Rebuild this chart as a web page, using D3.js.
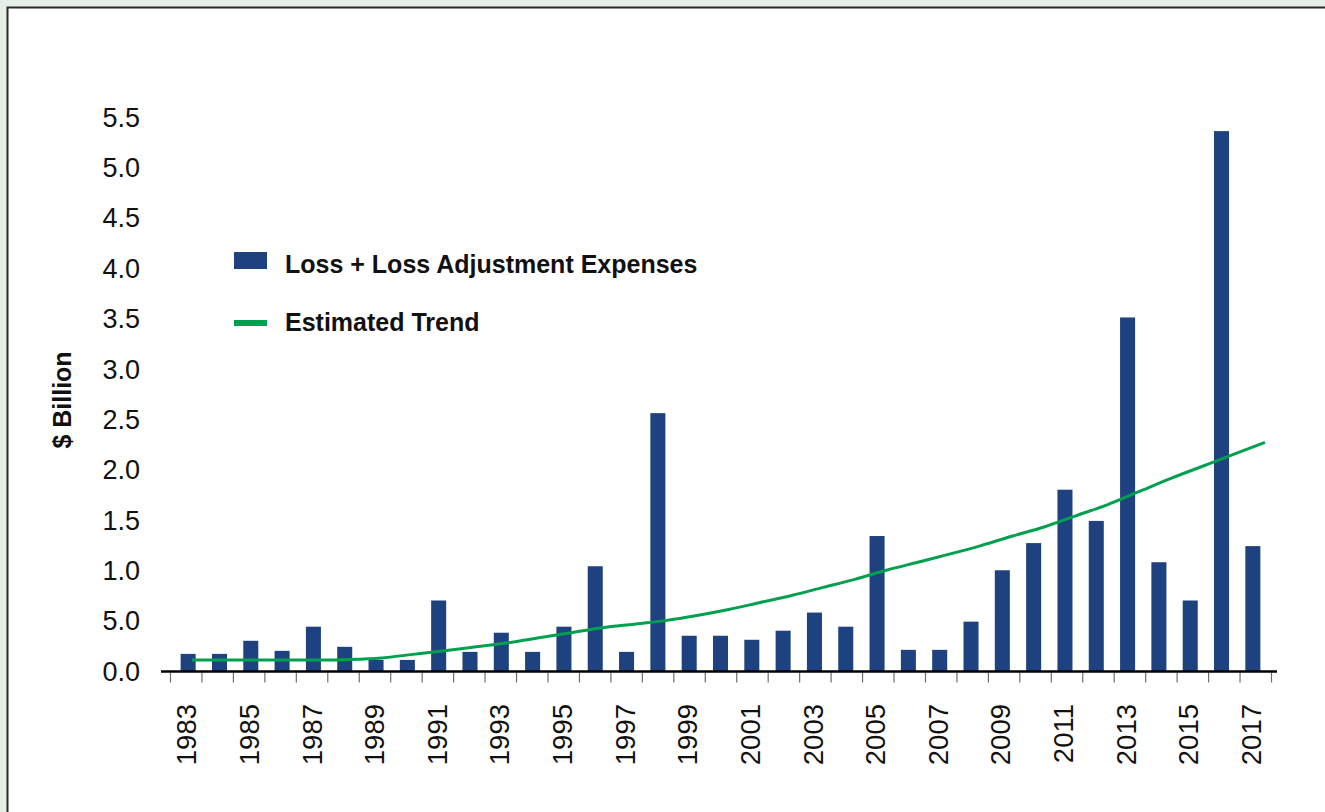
<!DOCTYPE html>
<html>
<head>
<meta charset="utf-8">
<script src="https://cdn.jsdelivr.net/npm/d3@7"></script>
<style>
  html, body { margin: 0; padding: 0; background: #e5efe8; }
  svg { display: block; }
  text { font-family: "Liberation Sans", Arial, sans-serif; fill: #111; }
</style>
</head>
<body>
<div id="chart"></div>
<script>
var svgWidth = 1325;
var svgHeight = 812;

// data
var years = d3.range(1983, 2018).map(String);
var lossValues = [0.17, 0.17, 0.30, 0.20, 0.44, 0.24, 0.11, 0.11, 0.70, 0.19,
  0.38, 0.19, 0.44, 1.04, 0.19, 2.56, 0.35, 0.35, 0.31, 0.40,
  0.58, 0.44, 1.34, 0.21, 0.21, 0.49, 1.00, 1.27, 1.80, 1.49,
  3.51, 1.08, 0.70, 5.36, 1.24];
var trendValues = [0.11, 0.11, 0.11, 0.11, 0.11, 0.115, 0.13, 0.165, 0.20, 0.24,
  0.28, 0.33, 0.38, 0.43, 0.465, 0.50, 0.55, 0.61, 0.68, 0.75,
  0.83, 0.91, 1.00, 1.08, 1.16, 1.245, 1.34, 1.43, 1.54, 1.65,
  1.78, 1.91, 2.03, 2.15, 2.27];
var yTickValues = [0, 0.5, 1, 1.5, 2, 2.5, 3, 3.5, 4, 4.5, 5, 5.5];
var yTickLabels = ["0.0", "5.0", "1.0", "1.5", "2.0", "2.5", "3.0", "3.5", "4.0", "4.5", "5.0", "5.5"];
var xLabelYears = years.filter(function(d, i) { return i % 2 === 0; });
var legendLabels = ["Loss + Loss Adjustment Expenses", "Estimated Trend"];

var barColor = "#1e4280";
var trendColor = "#00a04f";

var svg = d3.select("#chart")
  .append("svg")
  .attr("width", svgWidth)
  .attr("height", svgHeight);

// white panel with dark frame
svg.append("rect")
  .attr("x", 7.5)
  .attr("y", 7.5)
  .attr("width", svgWidth + 20)
  .attr("height", svgHeight + 20)
  .attr("fill", "#fff")
  .attr("stroke", "#2b2b2b")
  .attr("stroke-width", 2);

// scales
var yScale = d3.scaleLinear()
  .domain([0, 5.5])
  .range([671, 117]);

var xBand = d3.scaleBand()
  .domain(years)
  .range([172.5, 1268.5])
  .paddingInner(0.52)
  .paddingOuter(0.26);

var tickScale = d3.scaleLinear()
  .domain([0, years.length])
  .range([170, 1271]);

// the trend line runs a little wider than the bar centres
var trendX = d3.scaleLinear()
  .domain([0, years.length - 1])
  .range([192, 1265]);

// bars
svg.append("g")
  .selectAll("rect")
  .data(lossValues)
  .enter()
  .append("rect")
  .attr("x", function(d, i) { return xBand(years[i]); })
  .attr("y", function(d) { return yScale(d); })
  .attr("width", xBand.bandwidth())
  .attr("height", function(d) { return yScale(0) - yScale(d); })
  .attr("fill", barColor);

// trend line
var line = d3.line()
  .x(function(d, i) { return trendX(i); })
  .y(function(d) { return yScale(d); })
  .curve(d3.curveMonotoneX);

svg.append("path")
  .datum(trendValues)
  .attr("d", line)
  .attr("fill", "none")
  .attr("stroke", trendColor)
  .attr("stroke-width", 3);

// x axis ticks between categories
var bottomAxis = d3.axisBottom(tickScale)
  .tickValues(d3.range(years.length + 1))
  .tickFormat("")
  .tickSizeOuter(0)
  .tickSize(10);

var xAxisG = svg.append("g")
  .attr("transform", "translate(0," + (yScale(0) + 1.5) + ")")
  .call(bottomAxis);
xAxisG.select(".domain").remove();
xAxisG.selectAll(".tick line")
  .attr("stroke", "#6e6e6e")
  .attr("stroke-width", 1.2);

// baseline
svg.append("line")
  .attr("x1", tickScale.range()[0] - 9)
  .attr("x2", tickScale.range()[1] + 6)
  .attr("y1", yScale(0) + 0.5)
  .attr("y2", yScale(0) + 0.5)
  .attr("stroke", "#000")
  .attr("stroke-width", 2.5);

// x labels (every other year)
svg.append("g")
  .selectAll("text")
  .data(xLabelYears)
  .enter()
  .append("text")
  .attr("transform", function(d) {
    var cx = xBand(d) + xBand.bandwidth() / 2 - 1.5;
    return "translate(" + cx + ",704) rotate(-90)";
  })
  .attr("text-anchor", "end")
  .attr("dy", "0.35em")
  .attr("font-size", 27.5)
  .text(function(d) { return d; });

// y labels (no axis line)
svg.append("g")
  .selectAll("text")
  .data(yTickValues)
  .enter()
  .append("text")
  .attr("x", 140)
  .attr("y", function(d) { return yScale(d); })
  .attr("text-anchor", "end")
  .attr("dy", "0.36em")
  .attr("font-size", 27)
  .text(function(d, i) { return yTickLabels[i]; });

// y axis title
svg.append("text")
  .attr("transform", "translate(62,400) rotate(-90)")
  .attr("text-anchor", "middle")
  .attr("dy", "0.35em")
  .attr("font-size", 25)
  .attr("font-weight", "bold")
  .text("$ Billion");

// legend
var legend = svg.append("g");
legend.append("rect")
  .attr("x", 234)
  .attr("y", 252)
  .attr("width", 33)
  .attr("height", 17)
  .attr("fill", barColor);
legend.append("rect")
  .attr("x", 234)
  .attr("y", 320)
  .attr("width", 33)
  .attr("height", 6)
  .attr("fill", trendColor);
legend.selectAll("text")
  .data(legendLabels)
  .enter()
  .append("text")
  .attr("x", 285)
  .attr("y", function(d, i) { return 264 + i * 58; })
  .attr("dy", "0.36em")
  .attr("font-size", 25)
  .attr("font-weight", "bold")
  .text(function(d) { return d; });
</script>
</body>
</html>
